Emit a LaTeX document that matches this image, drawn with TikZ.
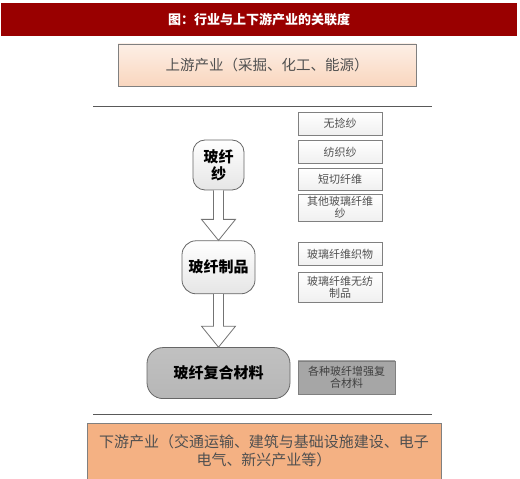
\documentclass[tikz,border=0pt]{standalone}
\usepackage{fontspec}
\setmainfont{Noto Sans CJK SC}
\usetikzlibrary{positioning,calc}

\definecolor{titlered}{RGB}{153,0,0}
\definecolor{uptop}{RGB}{253,239,230}
\definecolor{upbot}{RGB}{249,214,190}
\definecolor{downfill}{RGB}{244,177,131}
\definecolor{boxline}{RGB}{128,128,128}
\definecolor{compgray}{RGB}{166,166,166}
\definecolor{labeltext}{RGB}{80,80,80}

% hollow block arrow from the bottom of #1 to the top of #2
\newcommand{\hollowarrow}[2]{%
  \draw[blockarrow] ($(#1.south)+(-5,0)$) -- ($(#2.north)+(-5,21)$)
    -- ($(#2.north)+(-17,21)$) -- (#2.north) -- ($(#2.north)+(17,21)$)
    -- ($(#2.north)+(5,21)$) -- ($(#1.south)+(5,0)$);}

\begin{document}
\begin{tikzpicture}[
  x=1pt, y=1pt,
  titlebar/.style={
    fill=titlered, text=white, minimum width=516pt, minimum height=33pt,
    font=\bfseries\fontsize{13}{15}\selectfont
  },
  industry/.style={
    draw=boxline, line width=0.8pt, align=center, text=labeltext,
    font=\fontsize{14.5}{17}\selectfont
  },
  stagebox/.style={
    draw=black!60, line width=0.8pt, align=center, inner sep=1pt,
    top color=white, bottom color=black!10,
    font=\bfseries\fontsize{15}{17}\selectfont
  },
  itembox/.style={
    draw=boxline, line width=0.7pt, align=center, inner sep=1pt,
    top color=white, bottom color=black!6, text=labeltext,
    minimum width=84pt, font=\fontsize{11}{12}\selectfont
  },
  sepline/.style={draw=black!65, line width=1pt},
  blockarrow/.style={draw=black!55, line width=0.8pt, fill=white}
]
\useasboundingbox (0,0) rectangle (520,479);

% Title bar
\node[titlebar] (title) at (259,459.5) {图：行业与上下游产业的关联度};

% Upstream
\node[industry, minimum width=298pt, minimum height=42pt,
  top color=uptop, bottom color=upbot] (up) at (267,414)
  {上游产业（采掘、化工、能源）};
\coordinate (topL) at (93,372);
\coordinate (topR) at (432,372);
\draw[sepline] (topL) -- (topR);

% Product chain
\node[stagebox, minimum width=51pt, minimum height=50pt,
  rounded corners=12pt] (yarn) at (218.5,314) {玻纤\\纱};
\node[stagebox, minimum width=73pt, minimum height=53pt,
  rounded corners=14pt, below=50pt of yarn] (prod) {玻纤制品};
\node[stagebox, minimum width=143pt, minimum height=51pt,
  rounded corners=16pt, top color=compgray!70, bottom color=compgray!110!black,
  below=53pt of prod] (comp) {玻纤复合材料};

\hollowarrow{yarn}{prod}
\hollowarrow{prod}{comp}

% Items on the right
\node[itembox, minimum height=23pt] (rov) at (340,355.5) {无捻纱};
\node[itembox, minimum height=23pt, below=5pt of rov] (tex) {纺织纱};
\node[itembox, minimum height=22pt, below=4pt of tex] (chop) {短切纤维};
\node[itembox, minimum height=27pt, below=3pt of chop] (other) {其他玻璃纤维\\纱};
\node[itembox, minimum height=23pt, below=21pt of other] (fab) {玻璃纤维织物};
\node[itembox, minimum height=30pt, below=6pt of fab] (nonw) {玻璃纤维无纺\\制品};
\node[itembox, minimum width=97pt, minimum height=33pt,
  top color=compgray, bottom color=compgray, text=black!75]
  (frp) at (346.5,101.5) {各种玻纤增强复\\合材料};

% Downstream
\coordinate (botL) at (93,64);
\coordinate (botR) at (432,64);
\draw[sepline] (botL) -- (botR);
\node[industry, fill=downfill, minimum width=354pt, minimum height=56pt,
  font=\fontsize{15}{18}\selectfont] (down) at (264,28)
  {下游产业（交通运输、建筑与基础设施建设、电子\\电气、新兴产业等）};

\end{tikzpicture}
\end{document}
